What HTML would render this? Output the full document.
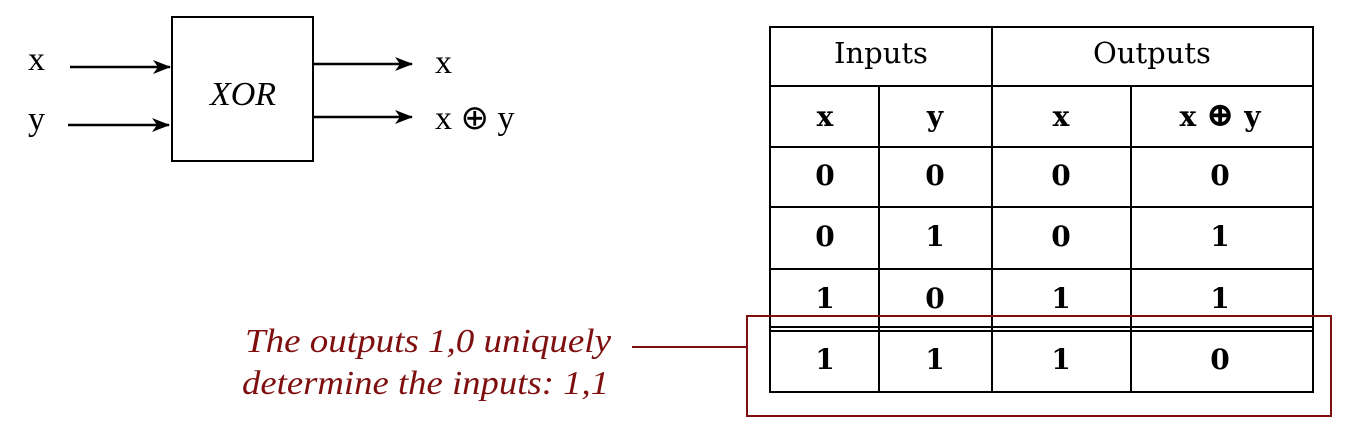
<!DOCTYPE html>
<html><head><style>
body{margin:0;background:#fff;width:1346px;height:435px;overflow:hidden}
</style></head><body>
<svg width="1346" height="435" xmlns="http://www.w3.org/2000/svg">
<defs><marker id="a" markerWidth="18" markerHeight="14" refX="17" refY="7" orient="auto" markerUnits="userSpaceOnUse"><path d="M0,0 L18,7 L0,14 L5,7 z" fill="#000"/></marker></defs>
<g font-family="Liberation Serif, serif" font-size="34" fill="#000">
<text x="28" y="70">x</text>
<text x="28" y="130">y</text>
<text x="435" y="73">x</text>
<text x="435" y="129">x ⊕ y</text>
<text x="243" y="105" font-style="italic" text-anchor="middle">XOR</text>
</g>
<rect x="172" y="17" width="141" height="144" fill="none" stroke="#000" stroke-width="2"/>
<g stroke="#000" stroke-width="2.4" marker-end="url(#a)">
<line x1="70" y1="67" x2="170" y2="67"/>
<line x1="68" y1="125" x2="169" y2="125"/>
<line x1="313" y1="64" x2="412" y2="64"/>
<line x1="313" y1="117" x2="412" y2="117"/>
</g>
<g stroke="#000" stroke-width="2" fill="none">
<rect x="770" y="27" width="543" height="365"/>
<line x1="770" y1="86" x2="1313" y2="86"/>
<line x1="770" y1="147" x2="1313" y2="147"/>
<line x1="770" y1="207" x2="1313" y2="207"/>
<line x1="770" y1="269" x2="1313" y2="269"/>
<line x1="770" y1="327" x2="1313" y2="327"/>
<line x1="770" y1="331" x2="1313" y2="331"/>
<line x1="992" y1="27" x2="992" y2="392"/>
<line x1="879" y1="86" x2="879" y2="392"/>
<line x1="1131" y1="86" x2="1131" y2="392"/>
</g>
<g font-family="DejaVu Serif, Liberation Serif, serif" font-size="28" font-weight="bold" text-anchor="middle" fill="#000">
<text x="881" y="63" font-weight="normal" font-size="29">Inputs</text>
<text x="1152" y="63" font-weight="normal" font-size="29">Outputs</text>
<text x="825" y="126">x</text><text x="935" y="126">y</text><text x="1061" y="126">x</text><text x="1220" y="126">x <tspan font-size="34">⊕</tspan> y</text>
<text x="825" y="185">0</text><text x="935" y="185">0</text><text x="1061" y="185">0</text><text x="1220" y="185">0</text>
<text x="825" y="246">0</text><text x="935" y="246">1</text><text x="1061" y="246">0</text><text x="1220" y="246">1</text>
<text x="825" y="308">1</text><text x="935" y="308">0</text><text x="1061" y="308">1</text><text x="1220" y="308">1</text>
<text x="825" y="369">1</text><text x="935" y="369">1</text><text x="1061" y="369">1</text><text x="1220" y="369">0</text>
</g>
<rect x="747" y="316" width="584" height="100" fill="none" stroke="#7f0f0f" stroke-width="2"/>
<line x1="632" y1="347" x2="747" y2="347" stroke="#7f0f0f" stroke-width="2"/>
<g font-family="Liberation Serif, serif" font-style="italic" font-size="34" fill="#7f0f0f">
<text x="245" y="352" textLength="366" lengthAdjust="spacingAndGlyphs">The outputs 1,0 uniquely</text>
<text x="242" y="394" textLength="367" lengthAdjust="spacingAndGlyphs">determine the inputs: 1,1</text>
</g>
</svg>
</body></html>
